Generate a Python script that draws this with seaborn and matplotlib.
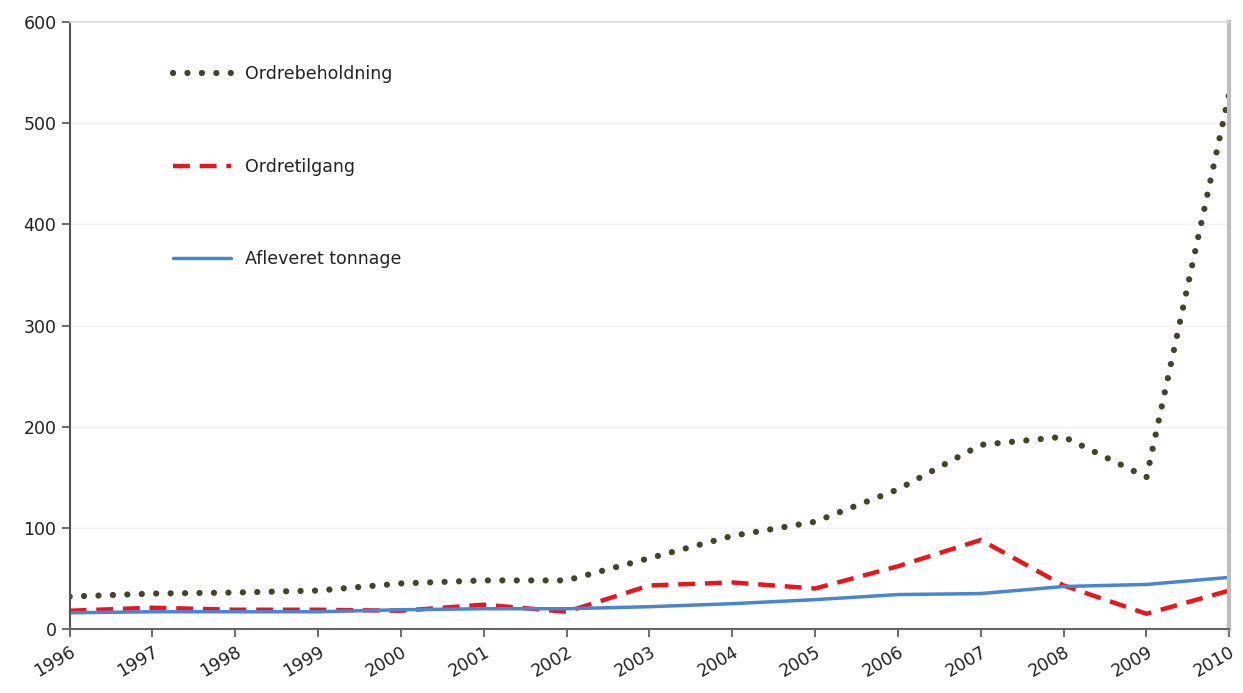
import numpy as np
import pandas as pd
import matplotlib
matplotlib.use("Agg")
import matplotlib.pyplot as plt
import seaborn as sns

sns.set_style("white")
plt.rcParams['font.family'] = ['DejaVu Sans']

# data
years = list(range(1996, 2011))
ordrebeholdning = [32, 35, 36, 38, 45, 48, 48, 70, 92, 106, 138, 182, 190, 150, 530]
ordretilgang = [18, 21, 19, 19, 18, 24, 17, 43, 46, 40, 62, 88, 43, 15, 38]
afleveret = [16, 17, 17, 17, 19, 20, 20, 22, 25, 29, 34, 35, 42, 44, 51]

df = pd.DataFrame({'year': years,
                   'Ordrebeholdning': ordrebeholdning,
                   'Ordretilgang': ordretilgang,
                   'Afleveret tonnage': afleveret})

fig = plt.figure(figsize=(12.43, 6.93), dpi=100)
ax = fig.add_axes([0.056, 0.0924, 0.933, 0.8758])

sns.lineplot(data=df, x='year', y='Ordrebeholdning', ax=ax, color='#45432c',
             linewidth=4.5, linestyle=(0, (0.01, 2.3)), dash_capstyle='round',
             label='Ordrebeholdning')
sns.lineplot(data=df, x='year', y='Ordretilgang', ax=ax, color='#e8161d',
             linewidth=3.2, linestyle=(0, (3.8, 2.2)), label='Ordretilgang')
sns.lineplot(data=df, x='year', y='Afleveret tonnage', ax=ax, color='#4a86cf',
             linewidth=2.5, label='Afleveret tonnage')

ax.set_xlim(1996, 2010)
ax.set_ylim(0, 600)
ax.set_xticks(years)
ax.set_xticklabels([str(y) for y in years], rotation=30, ha='right',
                   rotation_mode='anchor', fontsize=12.5, color='#222222')
ax.set_yticks(range(0, 601, 100))
ax.set_yticklabels([str(v) for v in range(0, 601, 100)], fontsize=12.5, color='#222222')
ax.set_xlabel('')
ax.set_ylabel('')

for v in range(100, 600, 100):
    ax.axhline(v, color='#f2f2f2', linewidth=1, zorder=0)

ax.tick_params(axis='both', direction='out', length=6, width=1.2, color='#555555',
               bottom=True, left=True)
ax.tick_params(axis='x', pad=4)
ax.spines['left'].set_color('#555555')
ax.spines['left'].set_linewidth(1.5)
ax.spines['bottom'].set_color('#666666')
ax.spines['bottom'].set_linewidth(1.5)
ax.spines['top'].set_color('#d8d8d8')
ax.spines['top'].set_linewidth(1.2)
ax.spines['right'].set_color('#bdbdbd')
ax.spines['right'].set_linewidth(3)

leg = ax.legend(loc='upper left', bbox_to_anchor=(0.076, 0.955), frameon=False,
                fontsize=12.5, handlelength=3.3, handletextpad=0.8, labelspacing=4.3)
for t in leg.get_texts():
    t.set_color('#222222')

fig.savefig('out.png', dpi=100)
